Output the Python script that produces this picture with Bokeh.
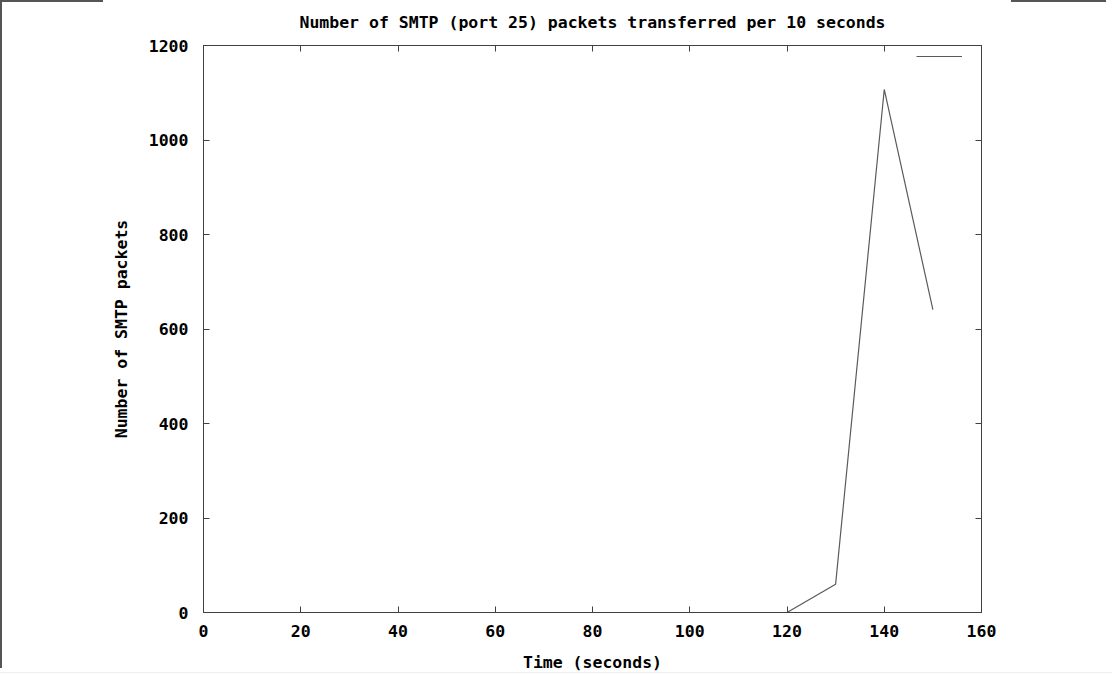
from bokeh.plotting import figure
from bokeh.models import (LinearAxis, FixedTicker, Legend, LegendItem, Range1d,
                          ColumnDataSource, InlineStyleSheet)
from bokeh.embed import file_html
from bokeh.resources import INLINE

# data
time_s = [120, 130, 140, 150]
packets = [0, 60, 1107, 641]
x_ticks = [0, 20, 40, 60, 80, 100, 120, 140, 160]
y_ticks = [0, 200, 400, 600, 800, 1000, 1200]
title_text = "Number of SMTP (port 25) packets transferred per 10 seconds"

FONT = "DejaVu Sans Mono"
FS = "16.5px"
FRAME = "#404040"

css = InlineStyleSheet(css="""
:host { position: relative; }
:host::after {
  content: ""; position: absolute; left: 0; top: 0; width: 1112px; height: 674px;
  pointer-events: none; z-index: 100;
  background:
    linear-gradient(#555555, #555555) 0px 0px / 2px 668px no-repeat,
    linear-gradient(#555555, #555555) 0px 0px / 103px 2px no-repeat,
    linear-gradient(#555555, #555555) 1011px 0px / 95px 2px no-repeat,
    linear-gradient(#eeeeee, #eeeeee) 0px 672px / 1112px 1px no-repeat;
}
""")

p = figure(width=1112, height=674, output_backend="svg", toolbar_location=None,
           x_range=Range1d(0, 160), y_range=Range1d(0, 1200),
           min_border_left=203, min_border_right=131, min_border_top=45, min_border_bottom=60,
           x_axis_label="Time (seconds)", y_axis_label="Number of SMTP packets",
           title=title_text, stylesheets=[css])

p.xgrid.visible = False
p.ygrid.visible = False
p.outline_line_color = FRAME
p.outline_line_width = 1
p.background_fill_color = "white"
p.border_fill_color = "white"

p.title.text_font = FONT
p.title.text_font_size = FS
p.title.text_font_style = "bold"
p.title.align = "center"
p.title.vertical_align = "top"
p.title.text_color = "black"
p.title.standoff = 23

for ax in (p.xaxis[0], p.yaxis[0]):
    ax.major_label_text_font = FONT
    ax.major_label_text_font_size = FS
    ax.major_label_text_font_style = "bold"
    ax.major_label_text_color = "black"
    ax.axis_label_text_font = FONT
    ax.axis_label_text_font_size = FS
    ax.axis_label_text_font_style = "bold"
    ax.axis_label_text_color = "black"
    ax.major_tick_in = 6
    ax.major_tick_out = 0
    ax.minor_tick_in = 0
    ax.minor_tick_out = 0
    ax.major_tick_line_color = FRAME
    ax.axis_line_color = FRAME

p.xaxis[0].ticker = FixedTicker(ticks=x_ticks)
p.yaxis[0].ticker = FixedTicker(ticks=y_ticks)
p.xaxis[0].major_label_standoff = 12
p.yaxis[0].major_label_standoff = 15
p.xaxis[0].axis_label_standoff = 13
p.yaxis[0].axis_label_standoff = 15

# mirror ticks on top and right (no labels)
for loc, ticks in (("above", x_ticks), ("right", y_ticks)):
    ax = LinearAxis(ticker=FixedTicker(ticks=ticks),
                    major_label_overrides={t: "" for t in ticks},
                    major_label_text_font_size="1px",
                    major_tick_in=6, major_tick_out=0, minor_tick_in=0, minor_tick_out=0,
                    major_tick_line_color=FRAME, axis_line_color=FRAME, major_label_standoff=0)
    p.add_layout(ax, loc)

src = ColumnDataSource(dict(x=time_s, y=packets))
r = p.line("x", "y", source=src, line_color="#5a5a5a", line_width=1.2)

legend = Legend(items=[LegendItem(label=" ", renderers=[r])], location=(713, 551),
                glyph_width=46, glyph_height=10, label_height=10, label_width=1,
                label_text_font_size="1px", label_standoff=0, padding=0, spacing=0,
                margin=0, border_line_color=None, background_fill_alpha=0)
p.add_layout(legend, "center")

open("out.html", "w").write(file_html(p, INLINE))
